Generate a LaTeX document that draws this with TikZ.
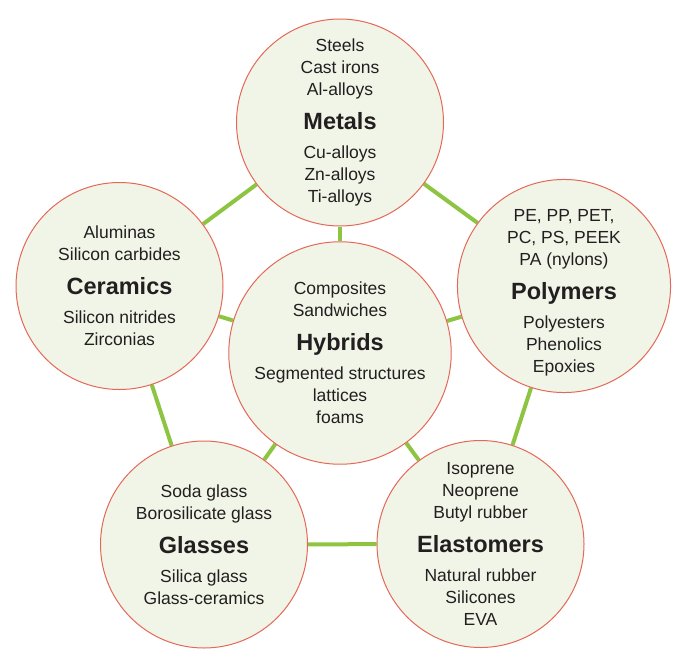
\documentclass[tikz,border=0pt]{standalone}
\usepackage{fontspec}
\setmainfont{Liberation Sans}
\usetikzlibrary{backgrounds}
\definecolor{ringred}{RGB}{228,104,88}
\definecolor{discfill}{RGB}{241,245,231}
\definecolor{linkgreen}{RGB}{141,196,66}
\definecolor{inkgray}{RGB}{35,31,32}
\newcommand{\famname}[1]{{\fontsize{23.5}{22}\selectfont\bfseries #1}}
\begin{document}
\begin{tikzpicture}[x=1pt, y=-1pt,
family/.style={circle, draw=ringred, fill=discfill, line width=1pt, minimum size=207pt, inner sep=0pt,
  align=center, text=inkgray, font=\fontsize{17.5}{22}\selectfont},
link/.style={draw=linkgreen, line width=4pt},
]
\useasboundingbox (0,0) rectangle (693,664);
\node[family] (metals) at (340,122.5) {Steels\\Cast irons\\Al-alloys\\[12pt]\famname{Metals}\\[7pt]Cu-alloys\\Zn-alloys\\Ti-alloys};
\node[family] (ceramics) at (119.5,286) {Aluminas\\Silicon carbides\\[12pt]\famname{Ceramics}\\[7pt]Silicon nitrides\\Zirconias};
\node[family] (polymers) at (564,286) {\rule{0pt}{26pt}PE, PP, PET,\\PC, PS, PEEK\\PA (nylons)\\[12pt]\famname{Polymers}\\[7pt]Polyesters\\Phenolics\\Epoxies};
\node[family] (hybrids) at (340,353) {Composites\\Sandwiches\\[12pt]\famname{Hybrids}\\[7pt]Segmented structures\\lattices\\foams};
\node[family] (glasses) at (204,544.5) {Soda glass\\Borosilicate glass\\[12pt]\famname{Glasses}\\[7pt]Silica glass\\Glass-ceramics};
\node[family] (elastomers) at (480.5,544) {Isoprene\\Neoprene\\Butyl rubber\\[12pt]\famname{Elastomers}\\[7pt]Natural rubber\\Silicones\\EVA};
\begin{pgfonlayer}{background}
\draw[link] (metals) -- (ceramics);
\draw[link] (metals) -- (polymers);
\draw[link] (metals) -- (hybrids);
\draw[link] (ceramics) -- (hybrids);
\draw[link] (polymers) -- (hybrids);
\draw[link] (ceramics) -- (glasses);
\draw[link] (polymers) -- (elastomers);
\draw[link] (glasses) -- (hybrids);
\draw[link] (elastomers) -- (hybrids);
\draw[link] (glasses) -- (elastomers);
\end{pgfonlayer}
\end{tikzpicture}
\end{document}
